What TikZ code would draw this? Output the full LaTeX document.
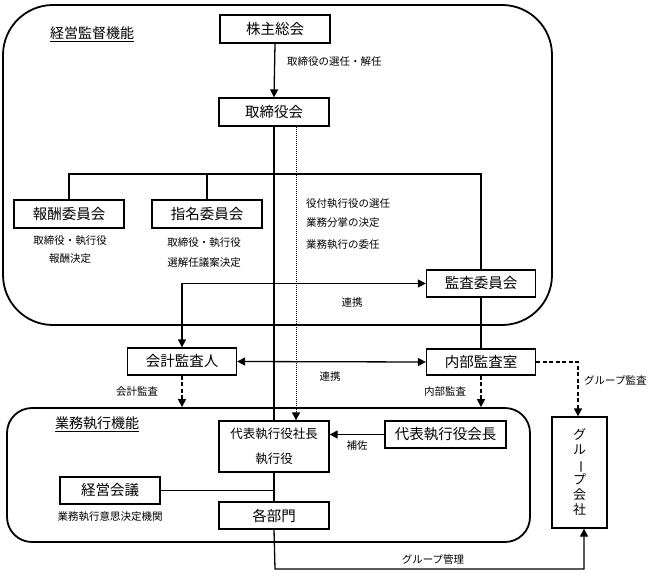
\documentclass[tikz,border=0pt]{standalone}
\usepackage{fontspec}
\setmainfont{Noto Sans CJK JP}
\usetikzlibrary{arrows.meta}
\begin{document}
\begin{tikzpicture}[x=1pt,y=-1pt,
  box/.style={draw,line width=1.3pt,minimum width=110pt,minimum height=28pt,inner sep=0pt,font=\fontsize{14.5}{16}\selectfont},
  frame/.style={draw,line width=1.8pt,inner sep=0pt},
  lbl/.style={inner sep=0pt,font=\fontsize{10.5}{12}\selectfont},
  ttl/.style={inner sep=0pt,font=\fontsize{14}{16}\selectfont},
  conn/.style={line width=1.3pt},
  arr/.style={-{Triangle[length=8pt,width=8pt]}},
  darr/.style={{Triangle[length=8pt,width=8pt]}-{Triangle[length=8pt,width=8pt]}},
  dsh/.style={line width=1.5pt,dash pattern=on 4pt off 2.5pt},
  dot/.style={line width=1pt,dash pattern=on 1pt off 1pt}]
\useasboundingbox (0,0) rectangle (660,578);

% containers
\node[frame,rounded corners=50pt,minimum width=549pt,minimum height=320pt] (sup) at (277.5,165) {};
\node[frame,rounded corners=25pt,minimum width=523pt,minimum height=134pt] (exec) at (268.5,475) {};

% titles
\node[ttl,anchor=west] (t1) at (50,34) {\underline{経営監督機能}};
\node[ttl,anchor=west] (t2) at (55,424) {\underline{業務執行機能}};

% boxes
\node[box,fill=white] (kabu) at (275,29) {株主総会};
\node[box,fill=white] (tori) at (274,112) {取締役会};
\node[box] (hoshu) at (69,214) {報酬委員会};
\node[box] (shimei) at (207,214) {指名委員会};
\node[box,minimum width=109pt,minimum height=27pt] (kansa) at (481,283.5) {監査委員会};
\node[box,minimum width=109pt,minimum height=27pt] (kaikei) at (182,361.5) {会計監査人};
\node[box,minimum width=109pt,minimum height=26pt] (naibu) at (481,362) {内部監査室};
\node[box,minimum height=51pt,align=center,font=\fontsize{12.5}{25}\selectfont] (shacho) at (274,446.5) {代表執行役社長\\執行役};
\node[box,minimum width=121pt,minimum height=27pt] (kaicho) at (445.5,434.5) {代表執行役会長};
\node[box,minimum width=100pt,minimum height=27pt] (keiei) at (110,490.5) {経営会議};
\node[box,minimum height=27pt] (kakubu) at (274,515.5) {各部門};
\node[box,minimum width=55pt,minimum height=111pt,align=center,font=\fontsize{13}{15}\selectfont] (group) at (579.5,472.5) {グ\\ル\\\rotatebox[origin=c]{-90}{ー}\\プ\\会\\社};

% labels
\node[lbl,anchor=west] (l1) at (287,62) {取締役の選任・解任};
\node[lbl] (l2) at (70,241) {取締役・執行役};
\node[lbl] (l3) at (70,259) {報酬決定};
\node[lbl] (l4) at (204,243) {取締役・執行役};
\node[lbl] (l5) at (204,263) {選解任議案決定};
\node[lbl,anchor=west] (l6) at (306,204) {役付執行役の選任};
\node[lbl,anchor=west] (l7) at (306,223) {業務分掌の決定};
\node[lbl,anchor=west] (l8) at (306,245) {業務執行の委任};
\node[lbl] (l9) at (352,303) {連携};
\node[lbl] (l10) at (330,377) {連携};
\node[lbl] (l11) at (137,392) {会計監査};
\node[lbl] (l12) at (445,392) {内部監査};
\node[lbl,anchor=west] (l13) at (584,380) {グループ監査};
\node[lbl] (l14) at (357,446) {補佐};
\node[lbl] (l15) at (110,517) {業務執行意思決定機関};
\node[lbl] (l16) at (433,559) {グループ管理};

% connectors
\coordinate (barL) at (69,174);
\coordinate (gm) at (275,569);
\draw[conn,arr] (kabu.south) -- (tori.north);
\draw[conn] (tori.south) -- (shacho.north);
\draw[dot,arr] ([xshift=22pt]tori.south) -- ([xshift=22pt]shacho.north);
\draw[conn] (hoshu.north) -- (barL) -| (kansa.north);
\draw[conn] (shimei.north) -- (shimei.north |- barL);
\draw[conn,darr] (kansa.west) -| (kaikei.north);
\draw[conn] (kansa.south) -- (naibu.north);
\draw[conn,darr] (kaikei.east) -- (naibu.west);
\draw[dsh,arr] (kaikei.south) -- (kaikei.south |- exec.north);
\draw[dsh,arr] (naibu.south) -- (naibu.south |- exec.north);
\draw[dsh,arr] (naibu.east) -| ([xshift=-1.5pt]group.north);
\draw[conn,arr] (kaicho.west) -- (kaicho.west -| shacho.east);
\draw[conn] (shacho.south) -- (kakubu.north);
\draw[conn] (keiei.east) -- (keiei.east -| shacho.south);
\draw[conn,arr] (kakubu.south) -- (gm) -| ([xshift=4.5pt]group.south);
\end{tikzpicture}
\end{document}
